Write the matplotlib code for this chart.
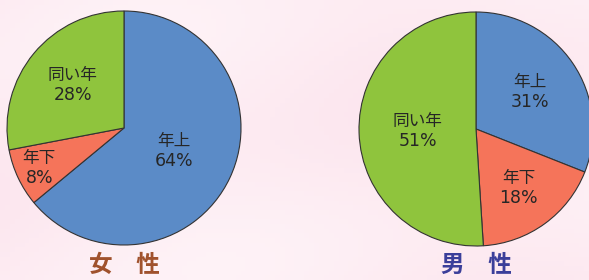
import numpy as np
import matplotlib
matplotlib.use("Agg")
import matplotlib.pyplot as plt

plt.rcParams['font.family'] = ['Noto Sans CJK JP', 'DejaVu Sans']

# data
labels = ["年上", "年下", "同い年"]
female = [64, 8, 28]
male = [31, 18, 51]
titles = ["女\u3000性", "男\u3000性"]
colors = ["#5b8bc7", "#f5745a", "#8fc43d"]

W, H = 589, 280
fig = plt.figure(figsize=(W / 100, H / 100), dpi=100)
ax = fig.add_axes([0, 0, 1, 1])

# soft pink background
yy, xx = np.mgrid[0:1:60j, 0:1:120j]
shade = 0.55 + 0.25 * np.sin(xx * 5 + yy * 3) * np.cos(yy * 4 - xx * 2)
base = np.array([0.985, 0.87, 0.915])
white = np.array([1.0, 0.97, 0.98])
bg = base[None, None, :] * (1 - shade[..., None]) + white[None, None, :] * shade[..., None]
ax.imshow(bg, extent=[0, W, 0, H], aspect='auto', zorder=0)

pies = [
    (female, (124, 152), [0.47, 0.80, 0.57], titles[0], "#a0522d"),
    (male, (476, 151), [0.56, 0.62, 0.50], titles[1], "#3b3f9a"),
]
R = 117
for vals, c, dists, title, tcol in pies:
    wedges, _ = ax.pie(vals, colors=colors, startangle=90, counterclock=False,
                       center=c, radius=R,
                       wedgeprops=dict(edgecolor="#333333", linewidth=0.8))
    for w, lab, v, d in zip(wedges, labels, vals, dists):
        ang = np.deg2rad((w.theta1 + w.theta2) / 2)
        x = c[0] + d * R * np.cos(ang)
        y = c[1] + d * R * np.sin(ang)
        ax.text(x, y + 1, lab, ha="center", va="bottom", fontsize=12,
                color="#262626", family=['Noto Sans CJK JP', 'DejaVu Sans'])
        ax.text(x, y - 1, f"{v}%", ha="center", va="top", fontsize=12.5,
                color="#262626", family=['DejaVu Sans'])
    ax.text(c[0], 15, title, ha="center", va="center", fontsize=17,
            fontweight="bold", color=tcol)

ax.set_xlim(0, W)
ax.set_ylim(0, H)
ax.set_aspect("auto")
ax.axis("off")
fig.savefig("out.png", dpi=100)
